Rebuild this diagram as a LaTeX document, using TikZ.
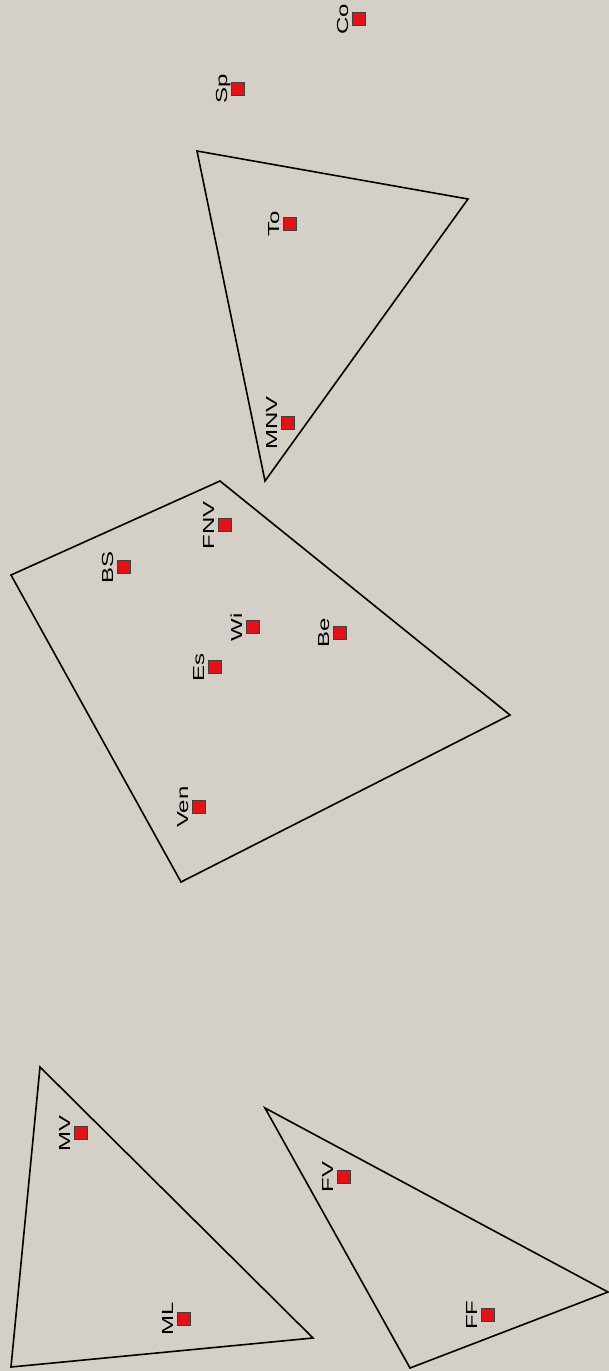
\documentclass[tikz,border=0pt]{standalone}
\usepackage{fontspec}
\newfontfamily\lblfont[FakeStretch=1.5]{Liberation Sans}
\definecolor{panel}{RGB}{212,208,200}
\definecolor{sitered}{RGB}{226,18,22}
\tikzset{
  site/.style={draw=black!75, fill=sitered, line width=0.9pt, minimum size=13pt, inner sep=0pt},
  sitelabel/.style={font=\lblfont\fontsize{16}{16}\selectfont, inner sep=0pt, rotate=90, anchor=base},
  zone/.style={draw=black, line width=1.6pt, line join=miter}
}
\begin{document}
\begin{tikzpicture}[x=1pt,y=-1pt]
	\fill[panel] (0,0) rectangle (609,1371);
	\useasboundingbox (0,0) rectangle (609,1371);
	% zones
	\coordinate (t1) at (197,151);
	\coordinate (t2) at (468,199);
	\coordinate (t3) at (265,481);
	\coordinate (q1) at (11,575);
	\coordinate (q2) at (220,481);
	\coordinate (q3) at (510,715);
	\coordinate (q4) at (181,882);
	\coordinate (m1) at (40,1067);
	\coordinate (m2) at (313,1338);
	\coordinate (m3) at (11,1367);
	\coordinate (f1) at (265,1108);
	\coordinate (f2) at (608,1292);
	\coordinate (f3) at (410,1368);
	\draw[zone] (t1) -- (t2) -- (t3) -- cycle;
	\draw[zone] (q1) -- (q2) -- (q3) -- (q4) -- cycle;
	\draw[zone] (m1) -- (m2) -- (m3) -- cycle;
	\draw[zone] (f1) -- (f2) -- (f3) -- cycle;
	% sites
	\foreach \n/\x/\y in {Co/359/19, Sp/238/89, To/290/224, MNV/288/423, FNV/225/525,
		BS/124/567, Wi/253/627, Es/215/667, Be/340/633, Ven/199/807,
		MV/81/1133, FV/344/1177, ML/184/1319, FF/488/1315}{
		\node[site] (\n) at (\x,\y) {};
		\node[sitelabel] (\n-lbl) at ([xshift=-4pt]\n.west) {\n};
	}
\end{tikzpicture}
\end{document}
